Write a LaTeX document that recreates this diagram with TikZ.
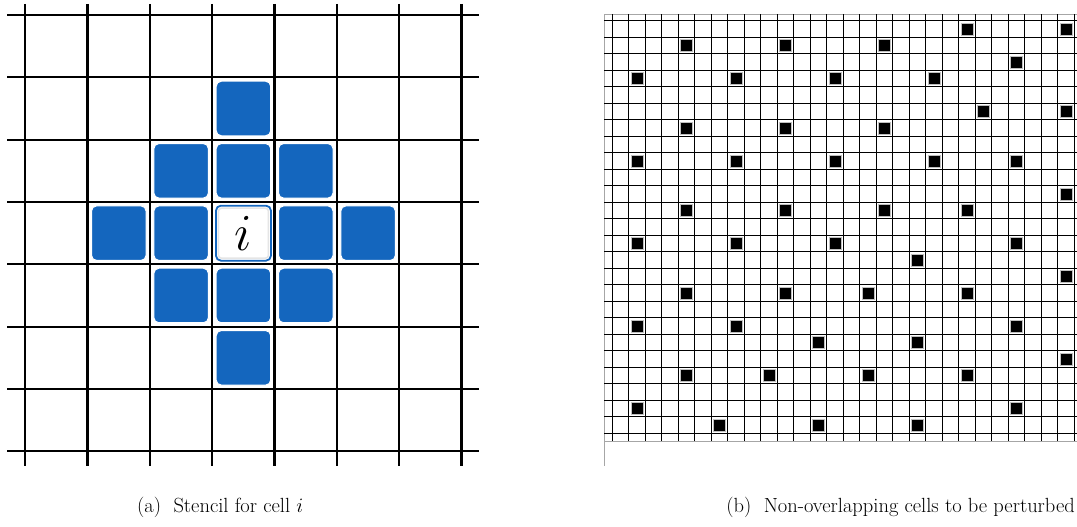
\RequirePackage{fix-cm}
\documentclass[tikz,border=0pt]{standalone}
\usetikzlibrary{shadows}
\definecolor{stencilblue}{RGB}{20,102,190}
\begin{document}
\begin{tikzpicture}[x=1pt,y=-1pt,
  gridline/.style={line width=2.3pt,black},
  fineline/.style={line width=1.2pt,black},
  frameline/.style={line width=0.9pt,black!35},
  bluecell/.style={rectangle,minimum size=54.5pt,inner sep=0pt,rounded corners=5pt,fill=stencilblue,draw=white,line width=1pt},
  centercell/.style={rectangle,minimum size=55pt,inner sep=0pt,rounded corners=5pt,fill=white,draw=stencilblue,line width=1.8pt,
     drop shadow={opacity=0.25,shadow xshift=0pt,shadow yshift=-1pt}},
  innerglow/.style={rectangle,minimum size=50pt,inner sep=0pt,rounded corners=3pt,draw=black!10,line width=1.5pt},
  blackcell/.style={rectangle,minimum size=12pt,inner sep=0pt,fill=black,draw=black!25,line width=0.8pt},
  captiontext/.style={font=\fontsize{20.5}{24}\selectfont,inner sep=0pt,anchor=base west}]
\useasboundingbox (0,0) rectangle (1077,527);
% ---------- (a) stencil grid ----------
\foreach \k in {0,...,7}{
  \draw[gridline] ({25.3+62.33*\k},4) -- ({25.3+62.33*\k},466);
  \draw[gridline] (7,{15+62.33*\k}) -- (479,{15+62.33*\k});
}
\foreach \c/\r in {3/1,2/2,3/2,4/2,1/3,2/3,4/3,5/3,2/4,3/4,4/4,3/5}
  \node[bluecell] (b-\c-\r) at ({56.47+62.33*\c},{46.17+62.33*\r}) {};
\node[centercell] (ci) at ({56.47+62.33*3},{46.17+62.33*3}) {};
\node[innerglow] (cglow) at (ci.center) {};
\node[inner sep=0pt] (ilabel) at (ci.center) {\fontsize{52}{62}\selectfont$i$};
% ---------- (b) fine grid ----------
\draw[frameline] (604.3,14.3) -- (1077,14.3);
\draw[frameline] (604.3,441) -- (1077,441);
\draw[frameline] (604.3,14.3) -- (604.3,466);
\foreach \k in {0,...,28}
  \draw[fineline] ({612.3+16.5*\k},14.3) -- ({612.3+16.5*\k},441);
\foreach \k in {0,...,25}
  \draw[fineline] (604.3,{20.7+16.5*\k}) -- (1077,{20.7+16.5*\k});
\foreach \c/\r in {21/0,27/0,4/1,10/1,16/1,24/2,1/3,7/3,13/3,19/3,22/5,27/5,4/6,10/6,16/6,
    1/8,7/8,13/8,19/8,24/8,27/10,4/11,10/11,16/11,21/11,1/13,7/13,13/13,24/13,18/14,27/15,
    4/16,10/16,15/16,21/16,1/18,7/18,24/18,12/19,18/19,27/20,4/21,9/21,15/21,21/21,
    1/23,24/23,6/24,12/24,18/24}
  \node[blackcell] (p-\c-\r) at ({620.55+16.5*\c},{29+16.5*\r}) {};
% ---------- captions ----------
\node[captiontext] (capa) at (137,512) {(a)\ \ Stencil for cell $i$};
\node[captiontext,anchor=base east] (capb) at (1075,512) {(b)\ \ Non-overlapping cells to be perturbed};
\end{tikzpicture}
\end{document}
